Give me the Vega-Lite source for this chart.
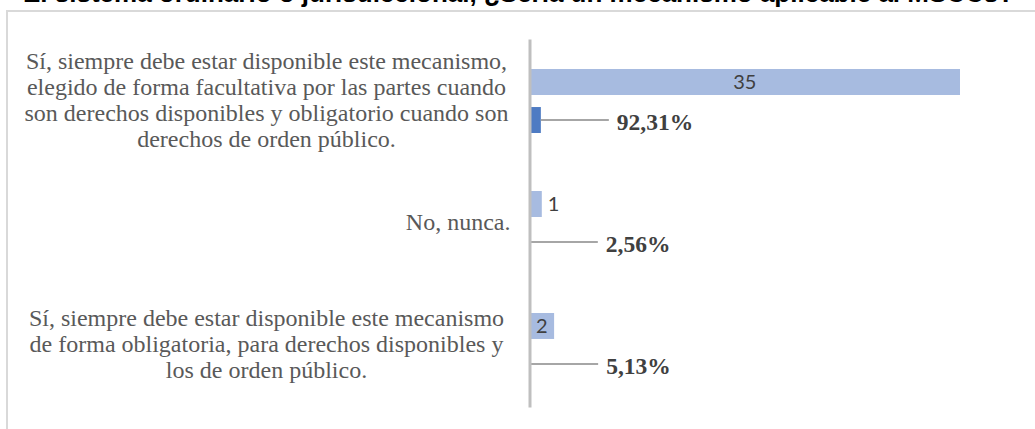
{
  "$schema": "https://vega.github.io/schema/vega-lite/v6.json",
  "width": 1030,
  "height": 420,
  "autosize": "none",
  "padding": {"left": 7, "top": 11, "right": -2, "bottom": -2},
  "title": {
    "text": "El sistema ordinario o jurisdiccional, ¿Sería un mecanismo aplicable al MSCCs?",
    "anchor": "start",
    "frame": "group",
    "dx": 16,
    "dy": 22,
    "offset": 5,
    "baseline": "alphabetic",
    "font": "Liberation Sans",
    "fontSize": 26,
    "fontWeight": "bold",
    "color": "#000000"
  },
  "config": {"view": {"stroke": "#d9d9d9", "strokeWidth": 2}},
  "data": {
    "values": [
      {"respuesta": "Sí, siempre debe estar disponible este mecanismo,\nelegido de forma facultativa por las partes cuando\nson derechos disponibles y obligatorio cuando son\nderechos de orden público.", "serie": "Cantidad", "valor": 35},
      {"respuesta": "Sí, siempre debe estar disponible este mecanismo,\nelegido de forma facultativa por las partes cuando\nson derechos disponibles y obligatorio cuando son\nderechos de orden público.", "serie": "Porcentaje", "valor": 0.9231},
      {"respuesta": "No, nunca.", "serie": "Cantidad", "valor": 1},
      {"respuesta": "No, nunca.", "serie": "Porcentaje", "valor": 0.0256},
      {"respuesta": "Sí, siempre debe estar disponible este mecanismo\nde forma obligatoria, para derechos disponibles y\nlos de orden público.", "serie": "Cantidad", "valor": 2},
      {"respuesta": "Sí, siempre debe estar disponible este mecanismo\nde forma obligatoria, para derechos disponibles y\nlos de orden público.", "serie": "Porcentaje", "valor": 0.0513}
    ]
  },
  "encoding": {
    "y": {
      "field": "respuesta",
      "type": "nominal",
      "sort": null,
      "scale": {"range": [28, 396], "paddingInner": 0.377, "paddingOuter": 0.197},
      "axis": {
        "title": null,
        "orient": "left",
        "offset": -522.5,
        "domainColor": "#bfbfbf",
        "domainWidth": 3,
        "ticks": false,
        "grid": false,
        "labelPadding": {"condition": {"test": "indexof(datum.value, '\\n') < 0", "value": 19.5}, "value": 263.5},
        "labelOffset": {"condition": [
          {"test": "length(split(datum.value, '\\n')) == 4", "value": -39},
          {"test": "length(split(datum.value, '\\n')) == 3", "value": -26}
        ], "value": 0},
        "labelFont": "Liberation Serif",
        "labelFontSize": 24,
        "labelColor": "#595959",
        "labelLimit": 600,
        "labelLineHeight": 26,
        "labelBaseline": "middle",
        "labelAlign": {"condition": {"test": "indexof(datum.value, '\\n') < 0", "value": "right"}, "value": "center"},
        "labelExpr": "split(datum.label, '\\n')",
        "zindex": 1
      }
    },
    "yOffset": {
      "field": "serie",
      "type": "nominal",
      "scale": {"domain": ["Cantidad", "Porcentaje"], "paddingInner": 0.316, "paddingOuter": 0.158}
    },
    "x": {
      "field": "valor",
      "type": "quantitative",
      "scale": {"domain": [-42.48, 41.26], "nice": false, "zero": false},
      "axis": null
    }
  },
  "layer": [
    {
      "mark": {"type": "bar"},
      "encoding": {
        "color": {
          "field": "serie",
          "type": "nominal",
          "scale": {"domain": ["Cantidad", "Porcentaje"], "range": ["#a7bbe0", "#4e7bc3"]},
          "legend": null
        }
      }
    },
    {
      "transform": [
        {"filter": "datum.serie == 'Cantidad' && datum.valor >= 2"},
        {"calculate": "datum.valor / 2", "as": "medio"}
      ],
      "mark": {"type": "text", "align": "center", "baseline": "middle", "dy": 1, "font": "Lato", "fontSize": 20, "color": "#404040"},
      "encoding": {
        "x": {"field": "medio", "type": "quantitative"},
        "text": {"field": "valor", "type": "quantitative"}
      }
    },
    {
      "transform": [
        {"filter": "datum.serie == 'Cantidad' && datum.valor < 2"}
      ],
      "mark": {"type": "text", "align": "left", "baseline": "middle", "dx": 6, "dy": 1, "font": "Lato", "fontSize": 20, "color": "#404040"},
      "encoding": {
        "text": {"field": "valor", "type": "quantitative"}
      }
    },
    {
      "transform": [{"filter": "datum.serie == 'Porcentaje'"}],
      "mark": {"type": "rule", "color": "#a6a6a6", "strokeWidth": 2, "x2Offset": 68},
      "encoding": {
        "x2": {"field": "valor"}
      }
    },
    {
      "transform": [
        {"filter": "datum.serie == 'Porcentaje'"},
        {"calculate": "replace(format(datum.valor, '.2%'), '.', ',')", "as": "etiqueta"}
      ],
      "mark": {"type": "text", "align": "left", "baseline": "middle", "dx": 76, "dy": 3, "font": "Liberation Serif", "fontWeight": "bold", "fontSize": 23.5, "color": "#404040"},
      "encoding": {
        "text": {"field": "etiqueta", "type": "nominal"}
      }
    }
  ]
}
